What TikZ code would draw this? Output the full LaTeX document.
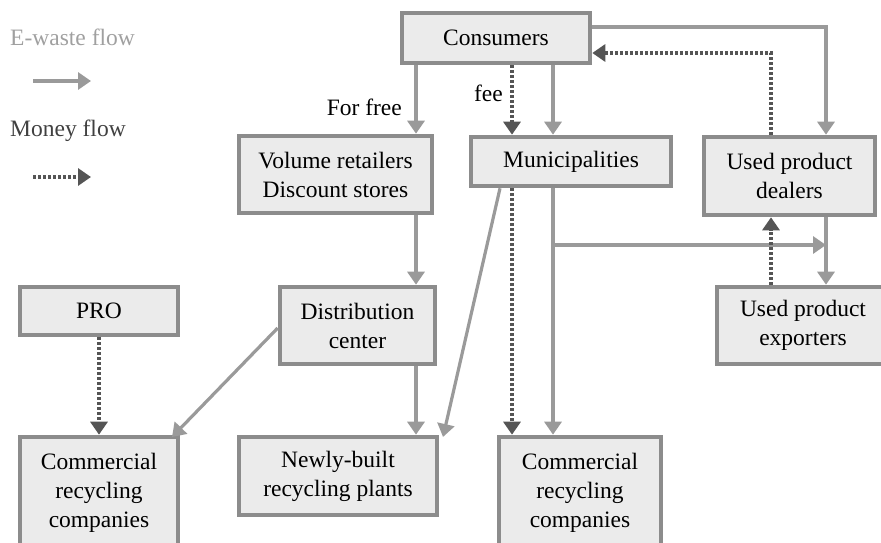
\documentclass[tikz,border=0pt]{standalone}
\usepackage{fontspec}
\setmainfont{Liberation Serif}
\usetikzlibrary{arrows.meta}
\definecolor{boxline}{HTML}{8C8C8C}
\definecolor{boxfill}{HTML}{EBEBEB}
\definecolor{ewline}{HTML}{9A9A9A}
\definecolor{mline}{HTML}{555555}
\definecolor{legtext}{HTML}{A0A0A0}
\tikzset{
  box/.style={draw=boxline, fill=boxfill, line width=4.6pt, inner sep=0pt, align=center,
    font=\fontsize{23.5}{29}\selectfont},
  ew/.style={draw=ewline, line width=3.2pt, -{Triangle[length=13pt,width=17pt]}},
  money/.style={draw=mline, line width=3.2pt, dash pattern=on 3pt off 2pt,
    -{Triangle[length=13pt,width=17pt]}},
  lbl/.style={font=\fontsize{23.5}{29}\selectfont, inner sep=0pt}
}
\begin{document}
\begin{tikzpicture}[x=1pt,y=-1pt]
\useasboundingbox (0,0) rectangle (881,543);
\clip (0,0) rectangle (881,543);
% boxes
\node[box, minimum width=188pt, minimum height=50pt] (cons) at (496,38) {Consumers};
\node[box, minimum width=193pt, minimum height=77pt] (vol) at (335.5,174.5) {Volume retailers\\Discount stores};
\node[box, minimum width=200pt, minimum height=49pt] (mun) at (571,161.5) {Municipalities};
\node[box, minimum width=171pt, minimum height=78pt] (deal) at (789.5,176) {Used product\\dealers};
\node[box, minimum width=155pt, minimum height=77pt] (dist) at (357.5,325.5) {Distribution\\center};
\node[box, minimum width=158pt, minimum height=48pt] (pro) at (99,311) {PRO};
\node[box, minimum width=158pt, minimum height=112pt] (crcl) at (99,493) {Commercial\\recycling\\companies};
\node[box, minimum width=198pt, minimum height=78pt] (newb) at (338,476) {Newly-built\\recycling plants};
\node[box, minimum width=162pt, minimum height=112pt] (crcr) at (580,493) {Commercial\\recycling\\companies};
\node[box, minimum width=172pt, minimum height=77pt] (expo) at (803,325.5) {Used product\\exporters};
% helper coordinates
\coordinate (xa) at (416,0);
\coordinate (xb) at (512,0);
\coordinate (xc) at (553,0);
\coordinate (xd) at (771,0);
\coordinate (xe) at (826,0);
\coordinate (xf) at (500,0);
\coordinate (ya) at (0,27);
\coordinate (yb) at (0,53);
\coordinate (yc) at (0,328);
\coordinate (crcltip) at (172,437);
\coordinate (newbtip) at (443,437);
\coordinate (branch) at (553,245);
\coordinate (branchend) at (826,245);
% e-waste flows
\draw[ew] (cons.south -| xa) -- (vol.north -| xa);
\draw[ew] (cons.south -| xc) -- (mun.north -| xc);
\draw[ew] (cons.east |- ya) -- (xe |- ya) -- (deal.north -| xe);
\draw[ew] (vol.south -| xa) -- (dist.north -| xa);
\draw[ew] (dist.south -| xa) -- (newb.north -| xa);
\draw[ew] (dist.west |- yc) -- (crcltip);
\draw[ew] (mun.south -| xf) -- (newbtip);
\draw[ew] (mun.south -| xc) -- (crcr.north -| xc);
\draw[ew] (branch) -- (branchend);
\draw[ew] (deal.south -| xe) -- (expo.north -| xe);
% money flows
\draw[money] (cons.south -| xb) -- (mun.north -| xb);
\draw[money] (deal.north -| xd) -- (xd |- yb) -- (cons.east |- yb);
\draw[money] (pro.south) -- (pro.south |- crcl.north);
\draw[money] (mun.south -| xb) -- (crcr.north -| xb);
\draw[money] (expo.north -| xd) -- (deal.south -| xd);
% labels
\node[lbl, anchor=east] (forfree) at (402,107) {For free};
\node[lbl, anchor=east] (fee) at (503,93) {fee};
% legend
\node[lbl, anchor=west, text=legtext] (legew) at (10,37) {E-waste flow};
\node[lbl, anchor=west, text=black!75] (legm) at (10,131) {Money flow};
\coordinate (l1a) at (33,81);
\coordinate (l1b) at (91,81);
\coordinate (l2a) at (33,177);
\coordinate (l2b) at (91,177);
\draw[ew] (l1a) -- (l1b);
\draw[money] (l2a) -- (l2b);
\end{tikzpicture}
\end{document}
